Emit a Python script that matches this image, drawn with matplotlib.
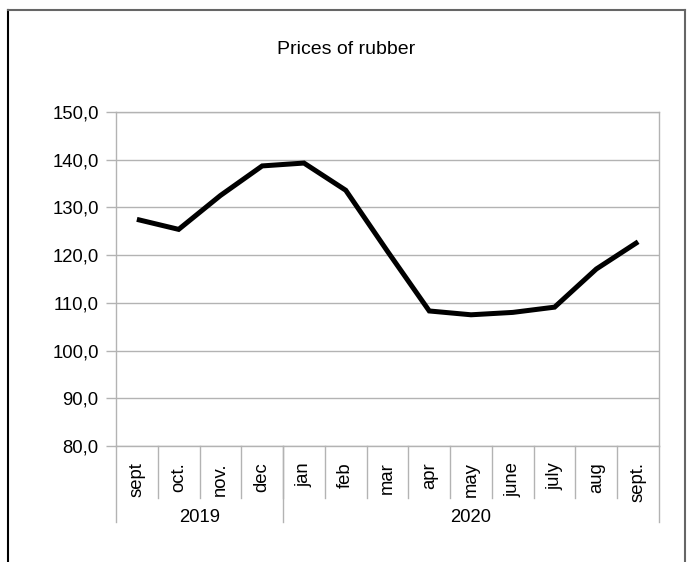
import matplotlib.pyplot as plt
from matplotlib.lines import Line2D
import numpy as np

plt.rcParams['font.family'] = ['Liberation Sans', 'DejaVu Sans']

months = ['sept', 'oct.', 'nov.', 'dec', 'jan', 'feb', 'mar', 'apr',
          'may', 'june', 'july', 'aug', 'sept.']
years = ['2019', '2020']
months_per_year = [4, 9]
prices = [127.5, 125.4, 132.5, 138.7, 139.3, 133.6, 120.8, 108.3,
          107.5, 108.0, 109.1, 117.1, 122.8]
y_ticks = [80, 90, 100, 110, 120, 130, 140, 150]

W, H = 688, 562
fig = plt.figure(figsize=(W / 100, H / 100), dpi=100)

# plot area in pixel terms
left, right, top, bottom = 116, 659, 112, 446
ax = fig.add_axes([left / W, 1 - bottom / H, (right - left) / W, (bottom - top) / H])

x = np.arange(len(months)) + 0.5
ax.plot(x, prices, color='black', lw=3.6, solid_joinstyle='miter',
        solid_capstyle='butt', zorder=3)

ax.set_xlim(0, len(months))
ax.set_ylim(y_ticks[0], y_ticks[-1])
ax.set_yticks(y_ticks)
ax.set_yticklabels(['{:.1f}'.format(v).replace('.', ',') for v in y_ticks])
ax.yaxis.grid(True, color='#b3b3b3', lw=1)
ax.set_axisbelow(True)
ax.tick_params(axis='y', length=7.5, width=1, color='#b3b3b3', pad=5, labelsize=13.3)
ax.set_xticks([])
for s in ax.spines.values():
    s.set_color('#b3b3b3')
    s.set_linewidth(1)

# category axis: month row and year row
ah = bottom - top
def ypos(py):
    return (bottom - py) / ah

tr = ax.get_xaxis_transform()
for i, m in enumerate(months):
    ax.text(i + 0.5, ypos(462), m, rotation=90, ha='center', va='top',
            fontsize=13.3, transform=tr)
for i in range(1, len(months)):
    ax.add_line(Line2D([i, i], [0, ypos(498)], color='#b3b3b3', lw=1,
                       transform=tr, clip_on=False))

edges = np.concatenate([[0], np.cumsum(months_per_year)])
for e in edges:
    ax.add_line(Line2D([e, e], [0, ypos(522)], color='#b3b3b3', lw=1,
                       transform=tr, clip_on=False))
for y, a, b in zip(years, edges[:-1], edges[1:]):
    ax.text((a + b) / 2, ypos(518), y, ha='center', va='center',
            fontsize=13.3, transform=tr)

fig.text(346 / W, 1 - 49 / H, 'Prices of rubber', ha='center', va='center', fontsize=14)

# chart frame
fig.add_artist(Line2D([8 / W, 8 / W], [0, 1 - 10 / H], color='black', lw=1.5))
fig.add_artist(Line2D([8 / W, 685 / W], [1 - 10 / H, 1 - 10 / H], color='#666666', lw=1.5))
fig.add_artist(Line2D([685 / W, 685 / W], [0, 1 - 10 / H], color='#666666', lw=1.5))

fig.savefig('out.png', dpi=100, facecolor='white')
